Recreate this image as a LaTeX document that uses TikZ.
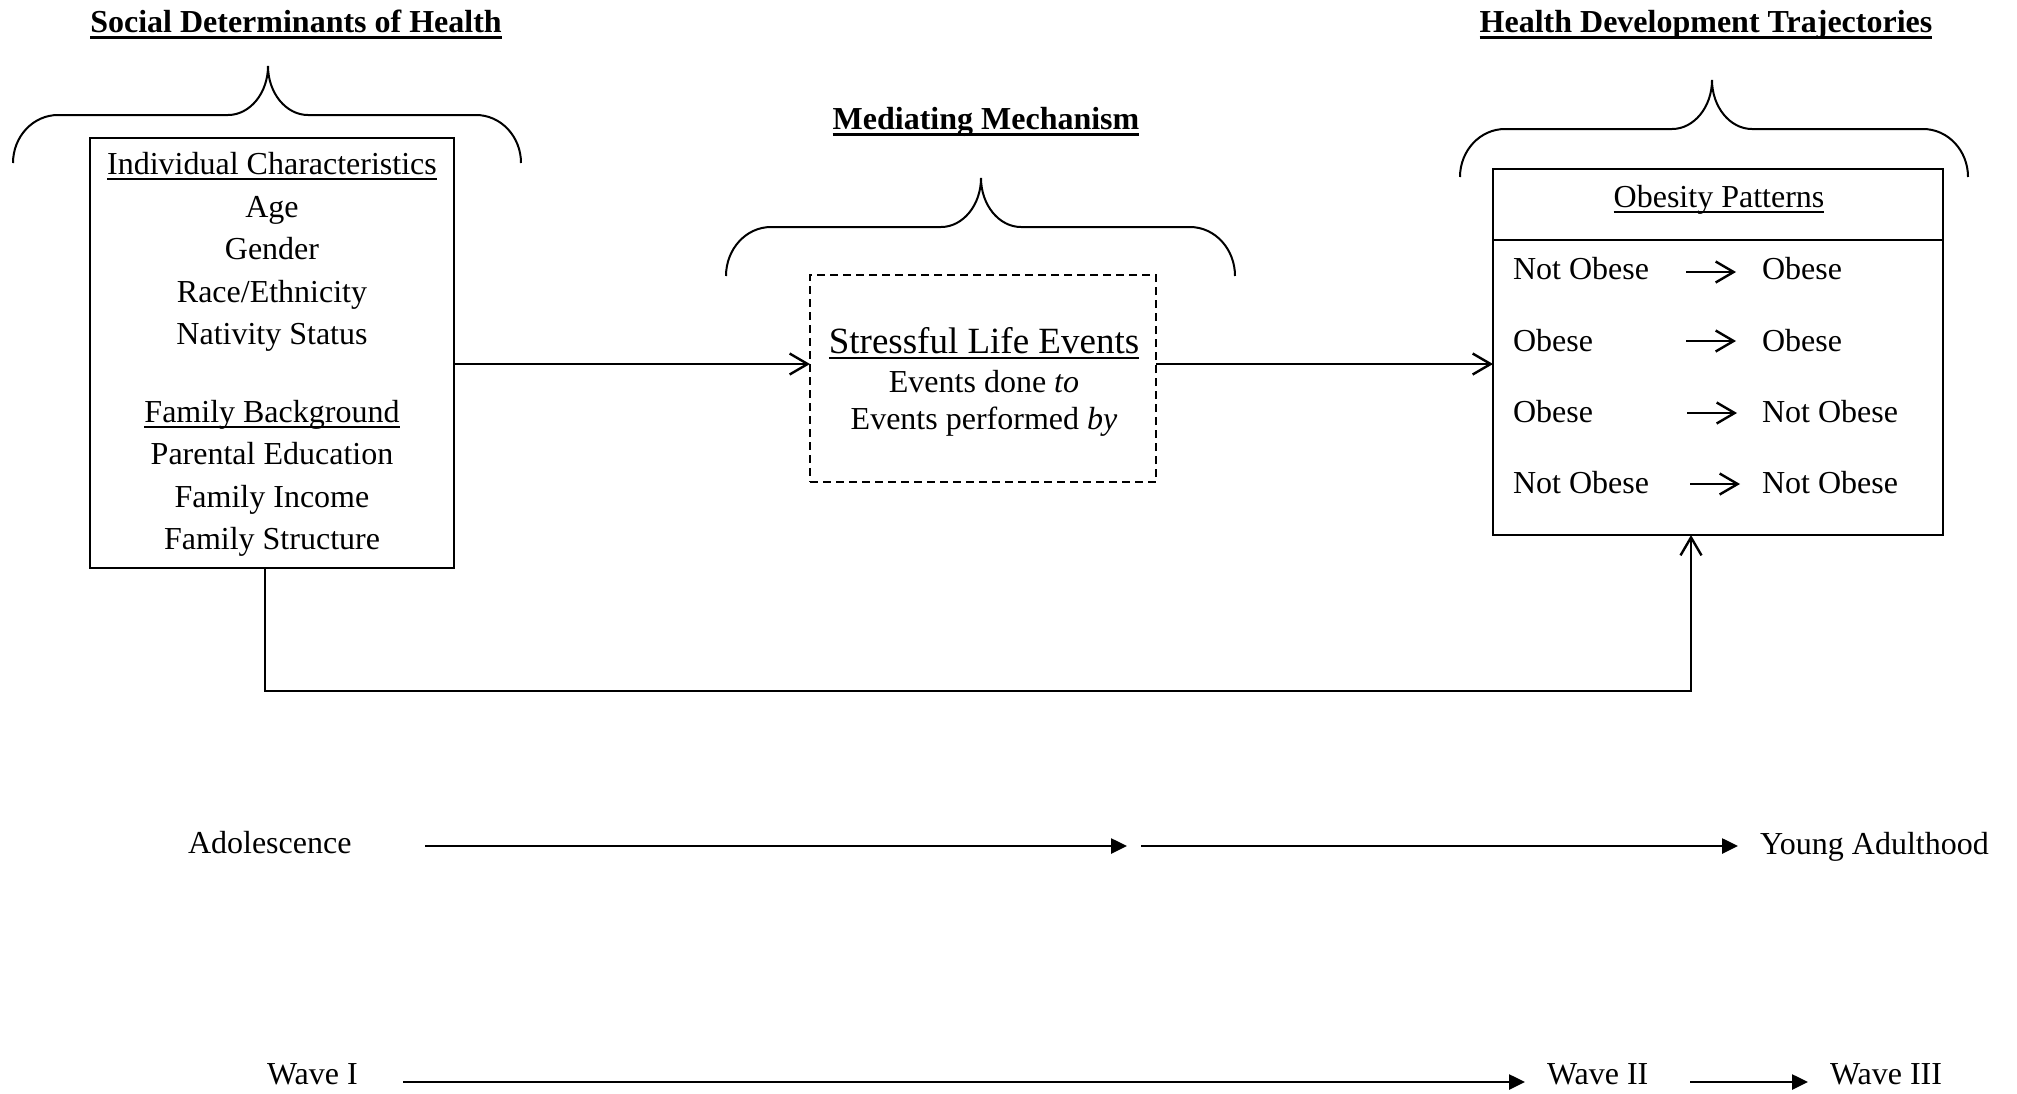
\documentclass[tikz,border=0pt]{standalone}
\usepackage{fontspec}
\setmainfont{Liberation Serif}
\usetikzlibrary{arrows.meta}
\newcommand{\ulin}[1]{\setbox0\hbox{#1}\rlap{\rule[-3.1pt]{\wd0}{1pt}}\box0}
\newcommand{\ulinb}[1]{\setbox0\hbox{#1}\rlap{\rule[-3.5pt]{\wd0}{1.5pt}}\box0}
% xl xr cx yt ya yb
\newcommand{\UpBrace}[6]{%
 \draw[bracestyle] (#1,#6) .. controls (#1,{#6-0.55*(#6-#5)}) and ({#1+20},#5) .. ({#1+45},#5)
   -- ({#3-40},#5) .. controls ({#3-18},#5) and (#3,{#4+0.55*(#5-#4)}) .. (#3,#4)
   .. controls (#3,{#4+0.55*(#5-#4)}) and ({#3+18},#5) .. ({#3+40},#5)
   -- ({#2-45},#5) .. controls ({#2-20},#5) and (#2,{#6-0.55*(#6-#5)}) .. (#2,#6);}
\begin{document}
\begin{tikzpicture}[x=0.5pt,y=-0.5pt,
  txt/.style={inner sep=0pt, outer sep=0pt, font=\fontsize{16}{19}\selectfont},
  ttl/.style={inner sep=0pt, outer sep=0pt, font=\fontsize{16}{19}\selectfont\bfseries},
  big/.style={inner sep=0pt, outer sep=0pt, font=\fontsize{18.5}{22}\selectfont},
  boxstyle/.style={draw, line width=1.3pt, inner sep=0pt, outer sep=0pt},
  dashbox/.style={draw, line width=1pt, dash pattern=on 4pt off 2.5pt, inner sep=0pt, outer sep=0pt},
  conn/.style={line width=1.2pt, -{Straight Barb[length=9pt,width=10.5pt,line width=1.2pt]}},
  tl/.style={line width=1.3pt, -{Triangle[length=8pt,width=7.5pt]}},
  bracestyle/.style={line width=1pt}]
\useasboundingbox[fill=white] (0,0) rectangle (2017,1093);

% titles
\node[ttl, anchor=base] (t1) at (296,32) {\ulinb{Social Determinants of Health}};
\node[ttl, anchor=base] (t2) at (986,129) {\ulinb{Mediating Mechanism}};
\node[ttl, anchor=base] (t3) at (1706,32) {\ulinb{Health Development Trajectories}};

% braces
\UpBrace{13}{521}{268}{66}{115}{163}
\UpBrace{726}{1235}{981}{178}{227}{276}
\UpBrace{1460}{1968}{1712}{80}{129}{177}

% left box
\node[boxstyle, minimum width=182pt, minimum height=215pt] (lbox) at (272,353) {};
\node[txt, anchor=base] (l1) at (272,174) {\ulin{Individual Characteristics}};
\node[txt, anchor=base] (l2) at (272,217) {Age};
\node[txt, anchor=base] (l3) at (272,259.5) {Gender};
\node[txt, anchor=base] (l4) at (272,302) {Race/Ethnicity};
\node[txt, anchor=base] (l5) at (272,344.5) {Nativity Status};
\node[txt, anchor=base] (l6) at (272,422) {\ulin{Family Background}};
\node[txt, anchor=base] (l7) at (272,464.5) {Parental Education};
\node[txt, anchor=base] (l8) at (272,507) {Family Income};
\node[txt, anchor=base] (l9) at (272,549.5) {Family Structure};

% dashed box
\node[dashbox, minimum width=173pt, minimum height=103.5pt] (dbox) at (983,378.5) {};
\node[big, anchor=base] (d1) at (984,353) {\ulin{Stressful Life Events}};
\node[txt, anchor=base] (d2) at (984,392) {Events done \textit{to}};
\node[txt, anchor=base] (d3) at (984,429) {Events performed \textit{by}};

% right box
\node[boxstyle, minimum width=225pt, minimum height=183pt] (rbox) at (1718,352) {};
\coordinate (dv) at (0,240);
\draw[line width=1.3pt] (rbox.west |- dv) -- (rbox.east |- dv);
\node[txt, anchor=base] (op) at (1719,207) {\ulin{Obesity Patterns}};

\node[txt, anchor=base west] (r1a) at (1513,279) {Not Obese};
\node[txt, anchor=base west] (r1b) at (1762,279) {Obese};
\node[txt, anchor=base west] (r2a) at (1513,351) {Obese};
\node[txt, anchor=base west] (r2b) at (1762,351) {Obese};
\node[txt, anchor=base west] (r3a) at (1513,422) {Obese};
\node[txt, anchor=base west] (r3b) at (1762,422) {Not Obese};
\node[txt, anchor=base west] (r4a) at (1513,493) {Not Obese};
\node[txt, anchor=base west] (r4b) at (1762,493) {Not Obese};
\coordinate (p1s) at (1686,272); \coordinate (p1e) at (1736,272);
\coordinate (p2s) at (1686,341); \coordinate (p2e) at (1736,341);
\coordinate (p3s) at (1687,413); \coordinate (p3e) at (1737,413);
\coordinate (p4s) at (1690,484); \coordinate (p4e) at (1740,484);
\draw[conn] (p1s) -- (p1e);
\draw[conn] (p2s) -- (p2e);
\draw[conn] (p3s) -- (p3e);
\draw[conn] (p4s) -- (p4e);

% main connectors
\coordinate (ay) at (0,364);
\draw[conn] (lbox.east |- ay) -- (dbox.west |- ay);
\draw[conn] (dbox.east |- ay) -- (rbox.west |- ay);
\coordinate (fbx) at (265,0);
\coordinate (fby) at (0,691);
\coordinate (fbr) at (1691,0);
\draw[conn] (lbox.south -| fbx) -- (fbx |- fby) -- (fbr |- fby) -- (rbox.south -| fbr);

% timeline 1
\node[txt, anchor=base west] (adol) at (188,853) {Adolescence};
\node[txt, anchor=base west] (young) at (1760,854) {Young Adulthood};
\coordinate (a1s) at (425,846); \coordinate (a1e) at (1127,846);
\coordinate (a2s) at (1141,846); \coordinate (a2e) at (1738,846);
\draw[tl] (a1s) -- (a1e);
\draw[tl] (a2s) -- (a2e);

% timeline 2
\node[txt, anchor=base west] (w1) at (267,1084) {Wave I};
\node[txt, anchor=base west] (w2) at (1547,1084) {Wave II};
\node[txt, anchor=base west] (w3) at (1830,1084) {Wave III};
\coordinate (b1s) at (403,1082); \coordinate (b1e) at (1525,1082);
\coordinate (b2s) at (1690,1082); \coordinate (b2e) at (1808,1082);
\draw[tl] (b1s) -- (b1e);
\draw[tl] (b2s) -- (b2e);
\end{tikzpicture}
\end{document}
